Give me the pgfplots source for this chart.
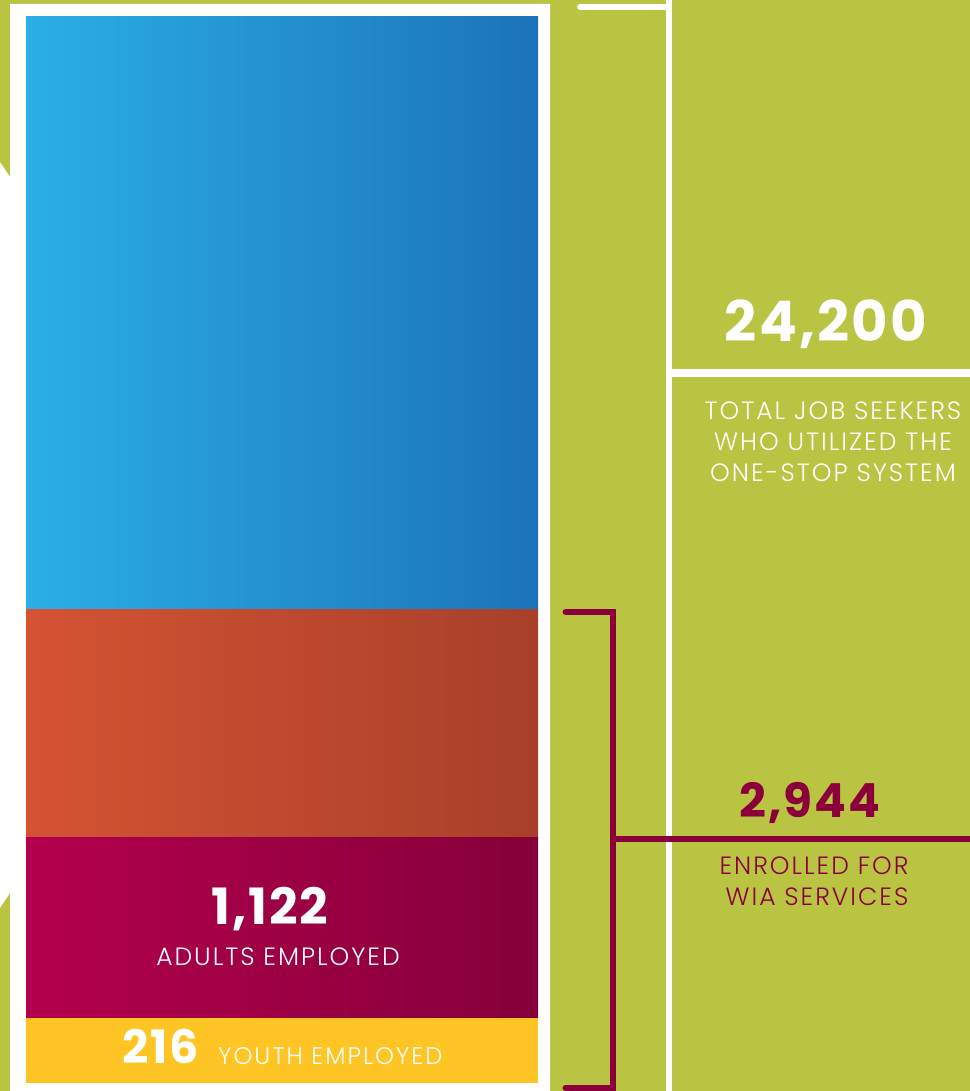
\documentclass[border=0pt]{standalone}
\usepackage{pgfplots}
\pgfplotsset{compat=1.18}
\usepackage{fontspec}
\setmainfont{Poppins}[BoldFeatures={LetterSpace=4}]
\newfontfamily\lightfont{Poppins Light}[LetterSpace=8]
\definecolor{bggreen}{HTML}{BAC443}
\definecolor{blueL}{HTML}{2BAFE4}
\definecolor{blueR}{HTML}{1C73B9}
\definecolor{orL}{HTML}{D55333}
\definecolor{orR}{HTML}{A7402A}
\definecolor{crL}{HTML}{B4004E}
\definecolor{crR}{HTML}{850039}
\definecolor{yel}{HTML}{FEC524}
\definecolor{crim}{HTML}{8B003B}
\begin{document}
\begin{tikzpicture}[x=1bp,y=1bp]
\useasboundingbox (0,0) rectangle (970,1091);
\fill[bggreen] (0,0) rectangle (970,1091);
\fill[white] (10,1087)--(550,1087)--(550,0)--(10,0)--(10,198)--(0,183)--(0,929)--(10,914)--cycle;
\begin{axis}[at={(0,0)},anchor=south west,x=1bp,y=1bp,
  xmin=0,xmax=970,ymin=-8,ymax=1083,hide axis,
  ybar stacked,bar width=512]
% visual segment heights (youth 216, adults 1,122, enrolled 2,944, total 24,200)
\addplot[draw=none,fill=yel] coordinates {(282,65)};
\addplot[draw=none,left color=crL,right color=crR] coordinates {(282,180)};
\addplot[draw=none,left color=orL,right color=orR] coordinates {(282,228)};
\addplot[draw=none,left color=blueL,right color=blueR] coordinates {(282,593)};
\end{axis}
% white bracket
\draw[white,line width=6,line cap=round] (580,1084)--(669,1084);
\draw[white,line width=7] (669,1091)--(669,0);
\draw[white,line width=8] (669,718)--(970,718);
% crimson bracket
\draw[crim,line width=7,line cap=round,line join=miter] (566,479)--(613,479)--(613,3)--(566,3);
\draw[crim,line width=7] (613,252)--(970,252);
% texts
\node[white,anchor=base,inner sep=0] at (826,749) {\fontsize{56bp}{60bp}\selectfont\bfseries 24,200};
\node[white,anchor=base,inner sep=0] at (833,671) {\lightfont\fontsize{25bp}{28bp}\selectfont TOTAL JOB SEEKERS};
\node[white,anchor=base,inner sep=0] at (833,640) {\lightfont\fontsize{25bp}{28bp}\selectfont WHO UTILIZED THE};
\node[white,anchor=base,inner sep=0] at (833,609) {\lightfont\fontsize{25bp}{28bp}\selectfont ONE-STOP SYSTEM};
\node[crim,anchor=base,inner sep=0] at (810,273) {\fontsize{47bp}{50bp}\selectfont\bfseries 2,944};
\node[crim,anchor=base,inner sep=0] at (814,216) {\lightfont\fontsize{25bp}{28bp}\selectfont ENROLLED FOR};
\node[crim,anchor=base,inner sep=0] at (817,185) {\lightfont\fontsize{25bp}{28bp}\selectfont WIA SERVICES};
\node[white,anchor=base,inner sep=0] at (270,166) {\fontsize{50bp}{54bp}\selectfont\bfseries 1,122};
\node[white,anchor=base,inner sep=0] at (278,125) {\lightfont\fontsize{25bp}{28bp}\selectfont ADULTS EMPLOYED};
\node[white,anchor=base,inner sep=0] at (161,27) {\fontsize{46bp}{50bp}\selectfont\bfseries 216};
\node[white,anchor=base west,inner sep=0] at (218,26) {\lightfont\fontsize{24bp}{28bp}\selectfont YOUTH EMPLOYED};
\end{tikzpicture}
\end{document}
